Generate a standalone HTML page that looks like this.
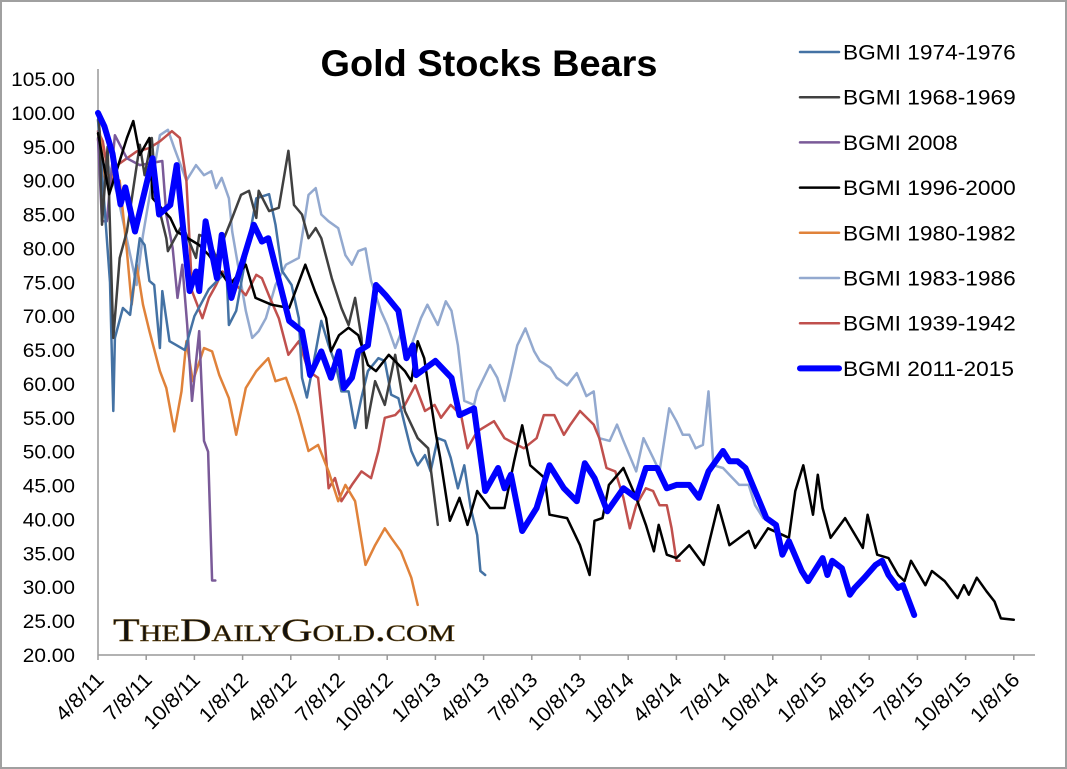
<!DOCTYPE html>
<html><head><meta charset="utf-8">
<style>
html,body{margin:0;padding:0;background:#fff;}
svg{display:block;font-family:"Liberation Sans",Arial,sans-serif;}
</style></head>
<body>
<svg id="chart" width="1067" height="769" viewBox="0 0 1067 769">
<rect x="1" y="1" width="1065" height="767" fill="#fff" stroke="#a0a0a0" stroke-width="2"/>
<text x="489" y="76" text-anchor="middle" font-size="37" font-weight="bold" fill="#000" textLength="337" lengthAdjust="spacingAndGlyphs">Gold Stocks Bears</text>
<g id="yaxis"></g>
<g id="xaxis"></g>
<text x="113" y="641" font-family="'Liberation Serif',serif" font-size="33" font-variant="small-caps" fill="#111" stroke="#6a4a10" stroke-width="0.5" textLength="342" lengthAdjust="spacingAndGlyphs">TheDailyGold.com</text>
<g id="series"></g>
<g id="legend"></g>
</svg>
<script>
// ---- data (months since 4/8/11, index value) ----
const yTicks = [20,25,30,35,40,45,50,55,60,65,70,75,80,85,90,95,100,105];
const xTickLabels = ["4/8/11","7/8/11","10/8/11","1/8/12","4/8/12","7/8/12","10/8/12","1/8/13","4/8/13","7/8/13","10/8/13","1/8/14","4/8/14","7/8/14","10/8/14","1/8/15","4/8/15","7/8/15","10/8/15","1/8/16"];
const seriesNames = ["BGMI 1974-1976","BGMI 1968-1969","BGMI 2008","BGMI 1996-2000","BGMI 1980-1982","BGMI 1983-1986","BGMI 1939-1942","BGMI 2011-2015"];

const t1974 = [0,.35,.75,.95,1.05,1.55,2.0,2.3,2.6,2.9,3.2,3.5,3.85,4.0,4.45,4.9,5.4,6.0,6.9,8.0,8.15,8.6,9.85,10.65,11.05,11.45,12.05,12.5,12.7,13.0,13.55,13.9,14.35,14.8,15.15,15.6,16.0,16.4,16.8,17.45,17.85,18.25,18.7,19.1,19.5,19.9,20.35,20.7,21.15,21.6,21.95,22.4,22.8,23.2,23.6,23.8,24.1];
const v1974 = [99,88,75,56,66.8,71.2,70.2,76.1,81.5,80.5,75.2,74.6,65.3,73.7,66.3,65.7,65,70,74,76.6,68.7,70.8,87.4,88,83.5,76.7,74.6,69.7,60.9,58,64.8,69.3,65.7,62.8,58.9,58.9,53.5,58,61.9,63.8,63.4,58.4,57.9,53.9,50.1,48,49.5,47.1,52,51.6,49.1,44.6,48,41.7,37.7,32.4,31.8];

const t1968 = [0,.1,.25,.6,.95,1.35,1.8,2.6,2.9,3.35,3.65,4.25,4.35,5.25,6.1,6.3,6.9,7.35,8.35,8.9,9.4,9.85,10.0,10.65,11.25,11.85,12.2,12.7,13.1,13.55,13.9,14.55,15.15,15.6,16.0,16.4,16.7,17.25,17.85,18.5,19.1,19.9,20.55,21.15];
const v1968 = [100,97.3,83.5,95,66.8,78.6,82.5,95.3,90.8,96.3,87.4,81.5,79.6,83.5,78.6,82,81.5,78.6,84.5,87.9,88.5,84.5,88.5,85.5,86,94.4,86.4,85,81.5,83,81.5,75.6,71.2,68.7,72.7,66.8,53.5,60.4,56.9,64.3,56,52,50.5,39.2];

const t2008 = [0,.25,.55,1.05,1.8,2.6,4.0,4.25,4.65,4.95,5.25,5.55,5.85,6.3,6.6,6.85,7.1,7.3];
const v2008 = [96.3,84,84,96.7,93.3,92.3,92.9,85,80,72.7,77.6,68.7,57.5,67.8,51.6,50,31,31];

const t1996 = [0,.7,1.8,2.2,2.6,3.2,3.4,4.5,4.9,6.3,6.9,8.2,9.2,9.8,10.8,11.9,12.9,13.5,14.2,14.5,15.0,15.6,16.2,16.8,17.3,18.1,19.1,19.5,19.9,20.3,21.0,21.3,21.9,22.5,23.0,23.6,24.4,25.3,25.9,26.4,26.9,27.8,28.1,29.2,30.0,30.6,30.9,31.4,31.8,32.7,33.5,34.1,34.6,34.9,35.4,36.0,36.8,37.7,38.6,39.3,40.5,40.9,41.7,43.0,43.4,43.9,44.5,44.8,45.1,45.6,46.5,47.6,47.9,48.5,49.2,49.8,50.2,50.6,51.5,51.9,52.7,53.5,53.9,54.2,54.7,55.3,55.8,56.2,57.0];
const v1996 = [97,88,96.3,98.8,93.8,96.3,87.4,84.5,82.5,80.5,79,74.6,77.6,72.7,71.7,71.2,77.6,73.7,69.7,64.8,67.2,68.3,67.2,62.8,61.9,64.3,61.9,60.4,66.3,63.8,53,49.1,39.8,43.2,39.2,44.2,41.7,41.7,48.6,53.9,48,46.1,40.7,40.2,36.2,31.8,39.8,40.2,45.1,47.6,43.2,39.2,35.3,39.2,34.8,34.3,36.2,33.3,42.1,36.2,38.3,35.8,38.7,37.3,44.2,48,40.7,46.6,41.7,37.3,40.2,35.8,40.7,34.8,34.3,31.8,30.9,33.9,30.3,32.4,30.9,28.4,30.3,28.9,31.4,29.4,27.9,25.4,25.2];

const t1980 = [0,.1,.45,.75,1.35,1.8,2.1,2.4,2.8,3.2,3.85,4.25,4.75,5.2,5.5,5.9,6.6,7.1,7.55,8.15,8.6,9.2,9.85,10.2,10.6,11.05,11.7,12.3,12.5,13.1,13.7,14.35,14.95,15.4,16.0,16.65,17.25,17.85,18.25,18.85,19.5,19.9];
const v1980 = [96,97.3,90,90.8,90,79.6,71.7,77.6,71.7,67.8,61.9,59.4,53,58.9,66.3,60.4,65.3,64.8,61.3,57.9,52.5,59.4,61.9,62.8,63.8,60.4,60.9,56.9,55.4,50.1,51,47.1,42.7,45.1,42.7,33.3,36.2,38.7,37.3,35.3,31.4,27.4];

const t1983 = [0,.1,1.2,2.4,2.8,3.85,4.35,4.75,5.5,6.1,6.6,7.05,7.35,7.7,8.15,8.35,9.2,9.6,10.0,10.45,11.05,11.7,12.5,13.1,13.55,13.9,14.35,14.95,15.4,15.8,16.2,16.65,17.0,17.6,18.0,18.5,18.9,19.3,20.1,20.5,21.15,21.65,22.0,22.4,22.8,23.4,23.6,24.4,24.85,25.3,25.65,26.1,26.6,27.15,27.5,28.15,28.55,29.2,29.8,30.4,30.85,31.2,31.85,32.3,32.7,33.5,33.95,34.55,34.95,35.55,36.0,36.4,36.8,37.2,37.65,38.0,38.3,38.9,39.3,39.9,40.5,40.9,41.4];
const v1983 = [99,96.3,88,74.6,82,96.7,97.5,94.8,90,92.3,90.8,91.4,88.9,90.4,87.4,82.5,70.8,66.8,67.8,69.7,74.6,77.6,78.6,87.9,88.9,85,84,83,79,77.6,79.6,80,75.2,70.8,68.7,65.3,67.8,64.3,69.7,71.7,68.7,72.2,70.8,65.7,57.5,56.9,58.9,62.8,60.9,57.5,60.9,65.7,68.2,64.8,63.4,62.4,60.9,59.8,61.6,58.2,58.9,52,51.6,54,51.6,47.1,52,49.1,47.1,56.4,54.5,52.5,52.5,50.5,51,58.9,48,47.6,46.6,45.1,45.1,42.1,40.2];

const t1939 = [0,.3,.75,1.2,1.8,2.4,3.2,3.85,4.6,5.1,5.5,5.7,5.85,6.5,6.9,7.35,7.75,8.6,9.2,9.85,10.2,10.7,11.25,11.85,12.5,13.1,13.7,14.1,14.35,14.75,15.15,15.8,16.4,17.0,17.45,17.85,18.5,19.1,19.75,20.35,20.95,21.35,21.95,22.6,23.0,23.6,24.65,25.3,26.1,26.5,27.3,27.75,28.4,29.0,29.4,30.0,30.85,31.2,31.65,32.2,32.7,33.1,33.5,34.1,34.55,34.95,35.4,35.7,36.0,36.2];
const v1939 = [97.3,95.8,89.4,92.3,93.3,94.3,94.8,95.8,97.3,96.3,90,81,73.7,69.7,72.7,74.6,76.6,74.6,73.1,76.1,75.6,72.7,69.7,64.3,66.3,61.9,60.9,52,44.6,46.1,42.7,45.1,47.1,46.1,50.1,55,55.4,56.9,59.8,56,56.9,55,56.9,55.4,50.5,53,54.5,52,51,50.5,52,55.4,55.4,52.5,54,56,54,52,47.6,47.1,43.2,38.7,42.1,44.6,44.2,42.1,42.1,38.7,33.9,33.9];

const t2011 = [0,.4,.9,1.4,1.7,2.3,3.4,3.8,4.5,4.9,5.7,6.1,6.3,6.7,7.4,7.7,8.3,9.2,9.7,10.2,10.6,11.9,12.7,13.2,13.9,14.5,15.0,15.3,15.8,16.2,16.8,17.3,17.9,18.7,19.2,19.6,19.8,21.0,22.0,22.5,23.4,24.1,24.9,25.3,25.7,26.4,27.3,28.1,29.0,29.8,30.3,30.9,31.7,32.7,33.5,34.1,34.8,35.4,36.0,36.8,37.4,38.0,38.9,39.3,39.8,40.3,40.9,41.6,42.2,42.6,43.0,43.8,44.2,45.1,45.4,45.7,46.3,46.8,47.1,47.7,48.4,48.8,49.2,49.8,50.1,50.8];
const v2011 = [100,98,94,86.5,89,82.5,93.3,85,86.4,92.3,73.7,76.6,73.7,84,75.6,82,72.7,79.6,83.5,81,81.5,69.3,67.8,61.3,64.8,60.9,64.8,59.4,60.9,64.8,65.7,74.6,73.1,70.8,63.8,65.7,61.3,63.4,60.9,55.4,56.4,44.2,47.6,44.6,46.6,38.3,41.7,48,44.6,42.7,48.3,46.1,41.2,44.6,43.2,47.6,47.6,44.6,45.1,45.1,43.2,47.1,50.1,48.6,48.6,47.6,44.2,40.2,39.2,34.8,36.8,32.4,30.9,34.3,31.8,33.9,32.8,28.9,29.9,31.4,33.3,33.9,31.8,29.9,30.3,25.9];

// ---- scales ----
const X0 = 98, PX_PER_MONTH = 48.2/3;
const Y0 = 655, Y_MIN = 20, Y_MAX = 105, Y_TOP = 79;
const xs = m => X0 + m * PX_PER_MONTH;
const ys = v => Y0 - (v - Y_MIN) / (Y_MAX - Y_MIN) * (Y0 - Y_TOP);
const NS = "http://www.w3.org/2000/svg";

function widen(t, f){
  const w = t.getComputedTextLength();
  if (w > 0) { t.setAttribute('textLength', (w*f).toFixed(1)); t.setAttribute('lengthAdjust','spacingAndGlyphs'); }
}

// y axis
const yg = document.getElementById('yaxis');
const yl = document.createElementNS(NS,'line');
yl.setAttribute('x1',X0);yl.setAttribute('x2',X0);yl.setAttribute('y1',Y_TOP-10);yl.setAttribute('y2',Y0);
yl.setAttribute('stroke','#999');yl.setAttribute('stroke-width','1.5');


yg.appendChild(yl);
yTicks.forEach(v=>{
  const t=document.createElementNS(NS,'text');
  t.setAttribute('x',75);t.setAttribute('y',ys(v)+7);t.setAttribute('text-anchor','end');
  t.setAttribute('font-size','19.5');t.setAttribute('fill','#000');
  t.textContent=v.toFixed(2);
  
  
  yg.appendChild(t);
  widen(t,1.07);
});

// x axis
const xg = document.getElementById('xaxis');
const xl = document.createElementNS(NS,'line');
xl.setAttribute('x1',X0);xl.setAttribute('x2',1035);xl.setAttribute('y1',Y0);xl.setAttribute('y2',Y0);
xl.setAttribute('stroke','#999');xl.setAttribute('stroke-width','1.5');


xg.appendChild(xl);
xTickLabels.forEach((lab,i)=>{
  const x=xs(i*3);
  const tk=document.createElementNS(NS,'line');
  tk.setAttribute('x1',x);tk.setAttribute('x2',x);tk.setAttribute('y1',Y0);tk.setAttribute('y2',Y0+5);
  tk.setAttribute('stroke','#999');tk.setAttribute('stroke-width','1.5');
  
  
  xg.appendChild(tk);
  const t=document.createElementNS(NS,'text');
  t.setAttribute('transform','translate('+(x+7)+','+(Y0+26)+') rotate(-45)');
  t.setAttribute('text-anchor','end');t.setAttribute('font-size','20.5');t.setAttribute('fill','#000');
  t.textContent=lab;
  
  
  xg.appendChild(t);
  widen(t,1.05);
});

// series
const seriesT = [t1974,t1968,t2008,t1996,t1980,t1983,t1939,t2011];
const seriesV = [v1974,v1968,v2008,v1996,v1980,v1983,v1939,v2011];
const colors = ["#4472a4","#404040","#7a5a98","#000000","#e0823a","#93a9cf","#c0504d","#0000ff"];
const widths = [2.5,2.5,2.5,2.5,2.5,2.5,2.5,6];
const order = [5,6,4,2,0,1,3,7];
const sg = document.getElementById('series');
order.forEach(k=>{
  const T=seriesT[k], V=seriesV[k];
  let d='';
  for(let i=0;i<T.length;i++){ d+=(i?'L':'M')+xs(T[i]).toFixed(1)+','+ys(V[i]).toFixed(1); }
  const p=document.createElementNS(NS,'path');
  p.setAttribute('d',d);p.setAttribute('fill','none');p.setAttribute('stroke',colors[k]);
  p.setAttribute('stroke-width',widths[k]);p.setAttribute('stroke-linejoin','round');p.setAttribute('stroke-linecap','round');
  
  
  sg.appendChild(p);
});

// legend
const lg = document.getElementById('legend');
seriesNames.forEach((nm,k)=>{
  const y=52+k*45.2;
  const l=document.createElementNS(NS,'line');
  l.setAttribute('x1',800);l.setAttribute('x2',839);l.setAttribute('y1',y);l.setAttribute('y2',y);
  l.setAttribute('stroke',colors[k]);l.setAttribute('stroke-width',k===7?6:2.5);l.setAttribute('stroke-linecap','round');
  
  
  lg.appendChild(l);
  const t=document.createElementNS(NS,'text');
  t.setAttribute('x',843);t.setAttribute('y',y+7.5);t.setAttribute('font-size','21');t.setAttribute('fill','#000');
  t.textContent=nm;
  
  
  lg.appendChild(t);
  widen(t,1.08);
});
</script>
</body></html>
